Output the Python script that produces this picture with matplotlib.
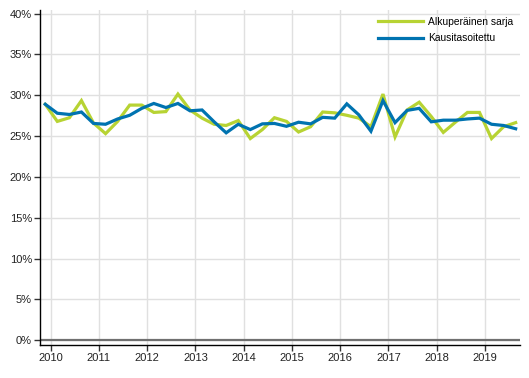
import matplotlib
matplotlib.use("Agg")
import matplotlib.pyplot as plt
from matplotlib.ticker import FuncFormatter

plt.rcParams["font.family"] = ["Liberation Sans", "DejaVu Sans"]

years = list(range(2010, 2020))
original = [28.9, 26.8, 27.25, 29.35, 26.6, 25.3, 26.8, 28.8, 28.8, 27.9,
            28.0, 30.15, 28.2, 27.2, 26.45, 26.3, 26.9, 24.7, 25.8, 27.25,
            26.8, 25.5, 26.15, 27.95, 27.85, 27.55, 27.2, 26.15, 30.15, 24.9,
            28.2, 29.15, 27.4, 25.45, 26.7, 27.9, 27.9, 24.7, 26.15, 26.65]
seasonal = [28.9, 27.8, 27.65, 27.95, 26.55, 26.45, 27.1, 27.55, 28.4, 29.0,
            28.5, 29.0, 28.1, 28.2, 26.75, 25.4, 26.45, 25.8, 26.5, 26.55,
            26.2, 26.7, 26.5, 27.3, 27.2, 28.95, 27.6, 25.6, 29.35, 26.65,
            28.15, 28.4, 26.75, 26.95, 26.95, 27.1, 27.2, 26.45, 26.3, 25.9]
labels = ["Alkuperäinen sarja", "Kausitasoitettu"]
green = "#b7d333"
blue = "#0073b0"

fig = plt.figure(figsize=(5.29, 3.78), dpi=100)
ax = fig.add_axes([0.0762, 0.0873, 0.9068, 0.8862])

x = list(range(len(original)))
ax.plot(x, original, color=green, lw=2.3, label=labels[0], solid_joinstyle="miter", zorder=3)
ax.plot(x, seasonal, color=blue, lw=2.3, label=labels[1], solid_joinstyle="miter", zorder=4)

ax.set_xlim(-0.41, 39.36)
ax.set_ylim(-0.6, 40.45)
ax.set_yticks(range(0, 41, 5))
ax.yaxis.set_major_formatter(FuncFormatter(lambda v, p: f"{int(v)}%"))
ax.set_xticks([0.45 + 4 * k for k in range(len(years))])
ax.set_xticklabels([str(y) for y in years])

ax.grid(True, color="#e0e0e0", lw=1)
ax.set_axisbelow(True)
ax.axhline(0, color="#707070", lw=1.6, zorder=2)

for s in ["top", "right"]:
    ax.spines[s].set_visible(False)
for s in ["left", "bottom"]:
    ax.spines[s].set_color("black")
    ax.spines[s].set_linewidth(1)
ax.tick_params(axis="both", length=4, width=1, color="#333333", labelsize=8, labelcolor="#222222", pad=2)

leg = ax.legend(loc="upper left", frameon=False, fontsize=7.4, handlelength=4.4,
                handletextpad=0.5, labelspacing=0.65, borderaxespad=0,
                bbox_to_anchor=(374 / 529, 1 - 12.6 / 378), bbox_transform=fig.transFigure)

fig.savefig("out.png", dpi=100)
